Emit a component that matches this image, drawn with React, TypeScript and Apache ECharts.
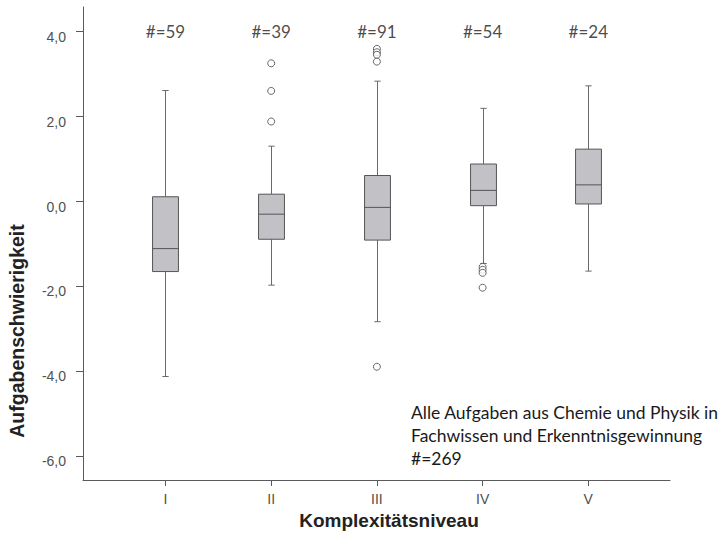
import React, { useEffect, useRef } from "react";
import * as echarts from "echarts";

const categories = ["I", "II", "III", "IV", "V"];
const counts = [59, 39, 91, 54, 24];
const boxLow = [-4.13, -1.98, -2.84, -1.47, -1.65];
const boxQ1 = [-1.66, -0.9, -0.92, -0.11, -0.07];
const boxMedian = [-1.12, -0.31, -0.15, 0.25, 0.38];
const boxQ3 = [0.1, 0.16, 0.6, 0.87, 1.22];
const boxHigh = [2.6, 1.29, 2.82, 2.18, 2.71];
const outlierCategory = [2, 2, 2, 3, 3, 3, 3, 3, 4, 4, 4, 4];
const outlierValues = [3.24, 2.59, 1.87, 3.58, 3.5, 3.44, 3.28, -3.9, -1.55, -1.62, -1.69, -2.04];
const yTicks = [-6, -4, -2, 0, 2, 4];
const totalCount = 269;
const noteLines = [
  "Alle Aufgaben aus Chemie und Physik in",
  "Fachwissen und Erkenntnisgewinnung",
  "#=" + totalCount,
];
const xTitle = "Komplexitätsniveau";
const yTitle = "Aufgabenschwierigkeit";

const SANS = "'Liberation Sans', Arial, sans-serif";
const NOTE = "Lato, sans-serif";

export default function App() {
  const ref = useRef<HTMLDivElement>(null);
  useEffect(() => {
    if (!ref.current) return;
    const chart = echarts.init(ref.current, null, { renderer: "svg" });
    const boxData = categories.map((_, i) => [i + 1, boxLow[i], boxQ1[i], boxMedian[i], boxQ3[i], boxHigh[i]]);
    const outData = outlierValues.map((v, i) => [outlierCategory[i], v]);
    const countData = counts.map((c, i) => [i + 1, 4, c]);
    const lineColor = "#5a5a5a";
    chart.setOption({
      animation: false,
      backgroundColor: "#ffffff",
      grid: { left: 83, right: 49, top: 7, bottom: 53 },
      xAxis: {
        type: "value",
        min: 0.2195,
        max: 5.773,
        axisLine: { show: true, onZero: false, lineStyle: { color: lineColor, width: 1 } },
        axisTick: { show: true, customValues: [1, 2, 3, 4, 5], length: 6, lineStyle: { color: lineColor } },
        axisLabel: {
          customValues: [1, 2, 3, 4, 5],
          formatter: (v: number) => categories[Math.round(v) - 1] ?? "",
          color: "#505050",
          fontFamily: SANS,
          fontSize: 14,
          margin: 12,
        },
        splitLine: { show: false },
      },
      yAxis: {
        type: "value",
        min: -6.565,
        max: 4.565,
        axisLine: { show: true, onZero: false, lineStyle: { color: lineColor, width: 1 } },
        axisTick: { show: true, customValues: yTicks, length: 7, lineStyle: { color: lineColor } },
        axisLabel: {
          customValues: yTicks,
          formatter: (v: number) => v.toFixed(1).replace(".", ","),
          color: "#505050",
          fontFamily: SANS,
          fontSize: 14,
          margin: 17,
          verticalAlign: "top",
          lineHeight: 11,
        },
        splitLine: { show: false },
      },
      series: [
        {
          type: "custom",
          data: boxData,
          renderItem: (params: any, api: any) => {
            const x = api.value(0);
            const pLo = api.coord([x, api.value(1)]);
            const pQ1 = api.coord([x, api.value(2)]);
            const pMed = api.coord([x, api.value(3)]);
            const pQ3 = api.coord([x, api.value(4)]);
            const pHi = api.coord([x, api.value(5)]);
            const bw = api.size([0.245, 0])[0];
            const cw = api.size([0.06, 0])[0];
            const cx = Math.round(pQ1[0]) + 0.5;
            const ls = { stroke: "#6a6a6a", lineWidth: 1 };
            return {
              type: "group",
              children: [
                { type: "line", shape: { x1: cx, y1: pHi[1], x2: cx, y2: pQ3[1] }, style: ls },
                { type: "line", shape: { x1: cx, y1: pQ1[1], x2: cx, y2: pLo[1] }, style: ls },
                { type: "line", shape: { x1: cx - cw / 2, y1: pHi[1], x2: cx + cw / 2, y2: pHi[1] }, style: ls },
                { type: "line", shape: { x1: cx - cw / 2, y1: pLo[1], x2: cx + cw / 2, y2: pLo[1] }, style: ls },
                {
                  type: "rect",
                  shape: { x: cx - bw / 2, y: pQ3[1], width: bw, height: pQ1[1] - pQ3[1] },
                  style: { fill: "#c2c2c6", stroke: "#555", lineWidth: 1 },
                },
                { type: "line", shape: { x1: cx - bw / 2, y1: pMed[1], x2: cx + bw / 2, y2: pMed[1] }, style: { stroke: "#555", lineWidth: 1 } },
              ],
            };
          },
          z: 2,
        },
        {
          type: "scatter",
          data: outData,
          symbol: "circle",
          symbolSize: 7,
          itemStyle: { color: "#ffffff", borderColor: "#444", borderWidth: 1 },
          z: 3,
        },
        {
          type: "scatter",
          data: countData,
          symbolSize: 0,
          label: {
            show: true,
            position: "inside",
            formatter: (p: any) => "#=" + p.value[2],
            color: "#1a1a1a",
            fontFamily: NOTE,
            fontSize: 17,
          },
          z: 4,
        },
      ],
      graphic: [
        {
          type: "text",
          x: 17,
          y: 331,
          rotation: Math.PI / 2,
          style: {
            text: yTitle,
            fontFamily: SANS,
            fontWeight: "bold",
            fontSize: 19.5,
            fill: "#222",
            textAlign: "center",
            textVerticalAlign: "middle",
          },
        },
        {
          type: "text",
          x: 389,
          y: 520,
          style: {
            text: xTitle,
            fontFamily: SANS,
            fontWeight: "bold",
            fontSize: 19,
            fill: "#222",
            textAlign: "center",
            textVerticalAlign: "middle",
          },
        },
        {
          type: "text",
          x: 411,
          y: 401,
          style: {
            text: noteLines.join("\n"),
            fontFamily: NOTE,
            fontSize: 17.5,
            lineHeight: 23,
            fill: "#1a1a1a",
            textAlign: "left",
            textVerticalAlign: "top",
          },
        },
      ],
    });
    return () => chart.dispose();
  }, []);
  return (
    <div
      ref={ref}
      style={{ position: "fixed", left: 0, top: 0, width: 719, height: 533, background: "#fff" }}
    />
  );
}
